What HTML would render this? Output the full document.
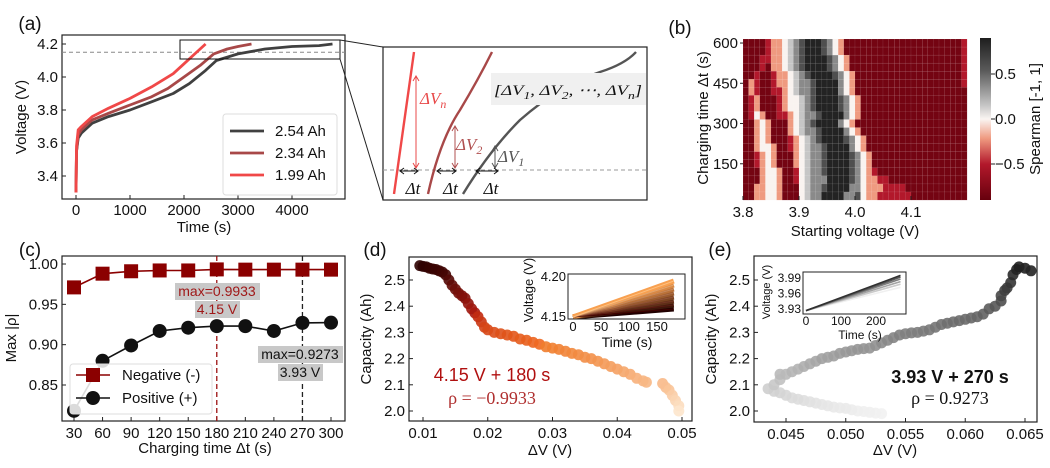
<!DOCTYPE html>
<html><head><meta charset="utf-8"><style>
html,body{margin:0;padding:0;background:#fff;}
svg{display:block;font-family:"Liberation Sans",sans-serif;}
</style></head><body>
<svg id="fig" width="1050" height="468" viewBox="0 0 1050 468" xmlns="http://www.w3.org/2000/svg">
</svg>
<script>
// ---------- Panel (a) data ----------
const aT1=[0,10,40,100,300,600,1000,1400,1800,2100,2400,2600,3000,3500,4000,4500,4750];
const aV1=[3.3,3.55,3.63,3.66,3.72,3.76,3.80,3.85,3.90,3.96,4.04,4.10,4.14,4.17,4.185,4.19,4.20];
const aT2=[0,10,40,100,300,600,1000,1400,1700,2000,2300,2550,2800,3000,3250];
const aV2=[3.3,3.55,3.65,3.68,3.74,3.78,3.83,3.88,3.93,4.00,4.07,4.14,4.17,4.185,4.20];
const aT3=[0,10,40,100,300,600,1000,1400,1800,2000,2200,2400];
const aV3=[3.3,3.58,3.68,3.70,3.76,3.81,3.87,3.94,4.02,4.08,4.14,4.20];
const aLegend=["2.54 Ah","2.34 Ah","1.99 Ah"];
const aXTicks=[0,1000,2000,3000,4000];
const aYTicks=[3.4,3.6,3.8,4.0,4.2];
// ---------- Panel (b) data ----------
const bXTicks=[3.8,3.9,4.0,4.1];
const bYTicks=[150,300,450,600];
const bCbTicks=[0.5,0.0,-0.5];
const bRows=[
"rrrrmppwlgdkkkdgwp","rrrrmppwlgdkkkdgwp","rrrmmppwlgdkkkkdgwp","rrrmrppwlgdkkkkdgwp",
"rrmrrmppwlgdkkkkdgwp","rpmrrmppwlggdkkkkgwp","rpmrrmmpwlggdkkkkgwp","rmprrrmpwwlgdkkkkdgwp",
"rmprrrmpwwlgdkkkkdgwp","rmwprrmmpwlggdkkkkgwp","rrpwprrrpwlgdkkkkgwpr","rrpwprrrpwlggdkkkkgwp",
"rrpwprrrmpwlgdkkkkdgwp","rrpwwprrmpwlggdkkkkgwp","rrmpwprrrpwlggdkkkkdgwp","rrmpwprrrpwlggdkkkkdgwp",
"rrrpwwprrmwlggdkkkkdgwpm","rrrpwwprrmwlgggkkkkdgwppmm","rrppwwprrrwlggdkkkkggwpppmmmm","rrppwwprrrwlggkkkkggdwppmmmmmm"];
const bLastCol="mmmmmmrrrrrrrrrrrrrr";
const bLevels={r:-0.85,m:-0.6,p:-0.3,w:0,l:0.25,g:0.5,d:0.72,k:0.88};
// ---------- Panel (c) data ----------
const cX=[30,60,90,120,150,180,210,240,270,300];
const cNeg=[0.971,0.988,0.991,0.992,0.992,0.9933,0.993,0.993,0.993,0.993];
const cPos=[0.818,0.880,0.899,0.917,0.921,0.923,0.923,0.917,0.927,0.9273];
const cYTicks=[0.85,0.90,0.95,1.00];
// ---------- Panel (d) data ----------
const dX=[0.0095,0.0100,0.0105,0.011,0.0115,0.012,0.0125,0.013,0.0135,0.014,0.0145,0.015,0.0155,0.016,0.0165,0.017,0.0175,0.018,0.0185,0.019,0.0195,0.020,0.021,0.022,0.023,0.024,0.025,0.026,0.027,0.028,0.029,0.030,0.031,0.032,0.033,0.034,0.035,0.036,0.037,0.038,0.039,0.040,0.041,0.042,0.043,0.044,0.0445,0.047,0.0475,0.048,0.0485,0.049,0.0495,0.0495];
const dY=[2.555,2.552,2.55,2.545,2.542,2.54,2.535,2.53,2.52,2.50,2.48,2.465,2.45,2.44,2.43,2.41,2.39,2.375,2.36,2.34,2.32,2.31,2.30,2.295,2.29,2.285,2.275,2.27,2.262,2.255,2.245,2.24,2.235,2.228,2.22,2.215,2.205,2.2,2.19,2.18,2.17,2.16,2.15,2.14,2.125,2.115,2.11,2.105,2.09,2.08,2.06,2.04,2.02,2.00];
const dXTicks=[0.01,0.02,0.03,0.04,0.05];
const dYTicks=[2.0,2.1,2.2,2.3,2.4,2.5];
const dInsetEnd=[4.160,4.165,4.170,4.175,4.180,4.185,4.190,4.195];
// ---------- Panel (e) data ----------
const eX=[0.053,0.0525,0.052,0.0515,0.051,0.0505,0.050,0.0495,0.049,0.0485,0.048,0.0475,0.047,0.0465,0.046,0.0455,0.045,0.0445,0.044,0.0435,0.044,0.0445,0.0445,0.045,0.0455,0.046,0.0465,0.047,0.0475,0.048,0.0485,0.049,0.0495,0.050,0.0505,0.051,0.0515,0.052,0.0525,0.053,0.0535,0.054,0.0545,0.055,0.0555,0.056,0.0565,0.057,0.0575,0.058,0.0585,0.059,0.0595,0.060,0.0605,0.061,0.0615,0.062,0.0625,0.063,0.063,0.0633,0.0635,0.0638,0.064,0.0643,0.0645,0.065,0.0655];
const eY=[1.99,1.992,1.995,1.998,2.0,2.005,2.01,2.012,2.015,2.02,2.025,2.03,2.035,2.04,2.045,2.05,2.06,2.07,2.075,2.085,2.10,2.12,2.14,2.14,2.15,2.16,2.17,2.18,2.19,2.2,2.205,2.21,2.22,2.225,2.23,2.235,2.238,2.24,2.25,2.26,2.27,2.28,2.29,2.295,2.298,2.30,2.305,2.31,2.32,2.33,2.335,2.34,2.345,2.35,2.355,2.36,2.37,2.39,2.40,2.42,2.44,2.46,2.47,2.49,2.52,2.54,2.55,2.545,2.535];
const eXTicks=[0.045,0.050,0.055,0.060,0.065];
const eYTicks=[2.0,2.1,2.2,2.3,2.4,2.5];
const eInsetEnd=[3.972,3.978,3.983,3.988,3.992,3.995];

const NS="http://www.w3.org/2000/svg";
const fig=document.getElementById('fig');
const TF=15;
function mk(tag,attrs,parent,txt){const e=document.createElementNS(NS,tag);for(const k in attrs)e.setAttribute(k,attrs[k]);if(txt!==undefined)e.textContent=txt;(parent||fig).appendChild(e);return e;}
function lin(d0,d1,p0,p1){return v=>p0+(v-d0)*(p1-p0)/(d1-d0);}
function grp(name){const g=mk('g',{});return g;}
function txt(g,x,y,s,size,anchor,extra){const t=mk('text',Object.assign({x:x,y:y,'font-size':size,'text-anchor':anchor||'middle',fill:'#111'},extra||{}),g,s);return t;}
function frame(g,x0,y0,x1,y1){mk('rect',{x:x0,y:y0,width:x1-x0,height:y1-y0,fill:'none',stroke:'#222','stroke-width':1.2},g);}
function xticks(g,ticks,sx,y0,y1,fmt,size,dy){ticks.forEach(v=>{const x=sx(v);mk('line',{x1:x,x2:x,y1:y1,y2:y1-4,stroke:'#222'},g);txt(g,x,y1+(dy||16),fmt(v),size||TF);});}
function yticks(g,ticks,sy,x0,fmt,size){ticks.forEach(v=>{const y=sy(v);mk('line',{x1:x0,x2:x0+4,y1:y,y2:y,stroke:'#222'},g);txt(g,x0-4,y+5,fmt(v),size||TF,'end');});}
function path(xs,ys,sx,sy){return xs.map((v,i)=>(i?'L':'M')+sx(v).toFixed(1)+','+sy(ys[i]).toFixed(1)).join('');}
function mixc(c1,c2,t){const a=c1.match(/\w\w/g).map(h=>parseInt(h,16)),b=c2.match(/\w\w/g).map(h=>parseInt(h,16));return 'rgb('+a.map((v,i)=>Math.round(v+(b[i]-v)*t)).join(',')+')';}
function subText(g,x,y,base,sub,size,anchor,color){const t=mk('text',{x:x,y:y,'font-size':size,'text-anchor':anchor||'start',fill:color||'#111','font-family':'Liberation Serif,serif','font-style':'italic'},g);
mk('tspan',{},t,base);mk('tspan',{dy:4,'font-size':size*0.7},t,sub);return t;}

// ======== Panel (a) ========
(function(){
const g=grp('panel-a');
txt(g,30,30,'(a)',19);
const sx=lin(0,4000,76,292), sy=lin(3.4,4.2,176,44);
frame(g,62,35,345,199);
const th=mk('line',{x1:62,x2:345,y1:sy(4.15),y2:sy(4.15),stroke:'#888','stroke-dasharray':'4,3'},g);

xticks(g,aXTicks,sx,35,199,v=>String(v));
yticks(g,aYTicks,sy,62,v=>v.toFixed(1));
txt(g,204,232,'Time (s)',15);
txt(g,0,0,'Voltage (V)',15,'middle',{transform:'translate(26,117) rotate(-90)'});
const cols=['#404040','#a84848','#f04848'];
[[aT1,aV1],[aT2,aV2],[aT3,aV3]].forEach((d,i)=>{const p=mk('path',{d:path(d[0],d[1],sx,sy),fill:'none',stroke:cols[i],'stroke-width':2.8,'stroke-linejoin':'round'},g);

});
mk('rect',{x:180,y:40,width:160,height:19,fill:'none',stroke:'#111','stroke-width':1},g);
const lg=mk('g',{},g);
mk('rect',{x:223,y:114,width:114,height:81,rx:3,fill:'#fff',stroke:'#ddd'},lg);
aLegend.forEach((s,i)=>{const y=131+i*22;mk('line',{x1:230,x2:264,y1:y,y2:y,stroke:cols[i],'stroke-width':2.8},lg);txt(lg,275,y+5,s,15,'start');});
mk('line',{x1:340,y1:40,x2:383,y2:47,stroke:'#222'},g);
mk('line',{x1:340,y1:59,x2:383,y2:200,stroke:'#222'},g);
})();

// ======== Zoom schematic ========
(function(){
const g=grp('zoom-schematic');
mk('rect',{x:383,y:47,width:264,height:153,fill:'#fff',stroke:'#222','stroke-width':1.2},g);
mk('line',{x1:383,x2:647,y1:170,y2:170,stroke:'#999','stroke-dasharray':'4,3'},g);
mk('path',{d:'M394,194 L414,52',fill:'none',stroke:'#f04848','stroke-width':2.4},g);
mk('path',{d:'M428,194 Q440,140 460,110 Q478,80 492,52',fill:'none',stroke:'#a84848','stroke-width':2.4},g);
mk('path',{d:'M463,194 Q490,150 520,120 Q560,85 600,72 Q625,64 636,52',fill:'none',stroke:'#555','stroke-width':2.4},g);
mk('rect',{x:491,y:73,width:155,height:32,fill:'#f0f0f0'},g);
const bt=mk('text',{x:494,y:95,'font-size':15,'font-family':'Liberation Serif,serif','font-style':'italic',fill:'#111',textLength:148,lengthAdjust:'spacingAndGlyphs'},g);
mk('tspan',{},bt,'[ΔV');mk('tspan',{dy:4,'font-size':11},bt,'1');
mk('tspan',{dy:-4},bt,', ΔV');mk('tspan',{dy:4,'font-size':11},bt,'2');
mk('tspan',{dy:-4},bt,', ⋯, ΔV');mk('tspan',{dy:4,'font-size':11},bt,'n');
mk('tspan',{dy:-4},bt,']');
const arr=(x1,y1,x2,y2,c)=>{mk('line',{x1:x1,y1:y1,x2:x2,y2:y2,stroke:c,'stroke-width':1},g);};
[[416,168,76,'#e84848','n',420,104],[455,168,126,'#b05050','2',456,150],[495,168,146,'#555','1',498,162]].forEach(a=>{
arr(a[0],a[1],a[0],a[2],a[3]);
mk('path',{d:`M${a[0]-3},${a[2]+5}L${a[0]},${a[2]}L${a[0]+3},${a[2]+5}M${a[0]-3},${a[1]-5}L${a[0]},${a[1]}L${a[0]+3},${a[1]-5}`,fill:'none',stroke:a[3]},g);
subText(g,a[5],a[6],'ΔV',a[4],17,'start',a[3]);});
[[400,418],[437,456],[476,498]].forEach(a=>{arr(a[0],171,a[1],171,'#111');
mk('path',{d:`M${a[0]+4},168L${a[0]},171L${a[0]+4},174M${a[1]-4},168L${a[1]},171L${a[1]-4},174`,fill:'none',stroke:'#111'},g);
txt(g,(a[0]+a[1])/2+4,194,'Δt',17,'middle',{'font-family':'Liberation Serif,serif','font-style':'italic'});});
})();

// ======== Panel (b) ========
(function(){
const g=grp('panel-b');
txt(g,680,34,'(b)',19);
const x0=743,x1=967,y0=39,y1=200;
const sx=lin(3.8,4.2,x0,x1), sy=lin(15,615,y1,y0);
const cw=(x1-x0)/40, ch=(y1-y0)/20;
function color(v){const stops=[[-0.9,'67000d'],[-0.6,'b2182b'],[-0.3,'ef9a80'],[0,'f9f3f0'],[0.25,'c6c6c6'],[0.5,'8a8a8a'],[0.75,'474747'],[0.9,'1e1e1e']];
for(let i=1;i<stops.length;i++){if(v<=stops[i][0]){const t=(v-stops[i-1][0])/(stops[i][0]-stops[i-1][0]);return mixc(stops[i-1][1],stops[i][1],Math.max(0,t));}}return '#1e1e1e';}
bRows.forEach((row,ri)=>{const s=row.padEnd(39,'r')+bLastCol[ri];
for(let ci=0;ci<40;ci++){const v=bLevels[s[ci]];const r=mk('rect',{x:(x0+ci*cw).toFixed(2),y:(y0+ri*ch).toFixed(2),width:(cw+0.1).toFixed(2),height:(ch+0.1).toFixed(2),fill:color(v),stroke:'rgba(255,255,255,0.18)','stroke-width':0.4},g);

}});
xticks(g,bXTicks,sx,y0,y1,v=>v.toFixed(1),TF,17);
bYTicks.forEach(v=>{const y=sy(v);mk('line',{x1:x0-3,x2:x0,y1:y,y2:y,stroke:'#222'},g);txt(g,x0-5,y+5,String(v),TF,'end');});
txt(g,855,236,'Starting voltage (V)',15);
txt(g,0,0,'Charging time Δt (s)',15,'middle',{transform:'translate(708,118) rotate(-90)'});
const defs=mk('defs',{},g);const lgd=mk('linearGradient',{id:'cbg',x1:0,y1:0,x2:0,y2:1},defs);
[[0,'1e1e1e'],[0.2,'5a5a5a'],[0.42,'c8c8c8'],[0.5,'faf5f2'],[0.62,'ef9a80'],[0.78,'b2182b'],[1,'67000d']].forEach(s=>mk('stop',{offset:s[0],'stop-color':'#'+s[1]},lgd));
const cb=mk('rect',{x:980,y:38,width:11,height:162,fill:'url(#cbg)'},g);
const scb=lin(0.9,-0.9,38,200);
bCbTicks.forEach(v=>{const y=scb(v);mk('line',{x1:991,x2:995,y1:y,y2:y,stroke:'#222'},g);txt(g,995,y+5,v===0?'0.0':(v<0?'−0.5':'0.5'),TF,'start');});
txt(g,0,0,'Spearman [-1, 1]',15,'middle',{transform:'translate(1040,119) rotate(-90)'});
})();

// ======== Panel (c) ========
(function(){
const g=grp('panel-c');
txt(g,30,256,'(c)',19);
const sx=lin(30,300,74,331), sy=lin(0.85,1.00,385,264);
frame(g,62,256,345,421);
xticks(g,cX,sx,256,421,v=>String(v),TF,17);
yticks(g,cYTicks,sy,62,v=>v.toFixed(2));
txt(g,205,453,'Charging time Δt (s)',15);
txt(g,0,0,'Max |ρ|',15,'middle',{transform:'translate(16,338) rotate(-90)'});
mk('line',{x1:sx(180),x2:sx(180),y1:256,y2:421,stroke:'#9b1010','stroke-dasharray':'5,3','stroke-width':1.3},g);
mk('line',{x1:sx(270),x2:sx(270),y1:256,y2:421,stroke:'#222','stroke-dasharray':'5,3','stroke-width':1.3},g);
mk('path',{d:path(cX,cNeg,sx,sy),fill:'none',stroke:'#8b0000','stroke-width':1.6},g);
mk('path',{d:path(cX,cPos,sx,sy),fill:'none',stroke:'#111','stroke-width':1.6},g);
cX.forEach((x,i)=>{const r=mk('rect',{x:sx(x)-7,y:sy(cNeg[i])-7,width:14,height:14,fill:'#8b0000'},g);


const c=mk('circle',{cx:sx(x),cy:sy(cPos[i]),r:7,fill:'#111'},g);

});
mk('rect',{x:175,y:283,width:85,height:17,fill:'#c8c8c8'},g);txt(g,217,296,'max=0.9933',14,'middle',{fill:'#a01818'});
mk('rect',{x:195,y:301,width:45,height:17,fill:'#c8c8c8'},g);txt(g,217,314,'4.15 V',14,'middle',{fill:'#a01818'});
mk('rect',{x:258,y:346,width:85,height:17,fill:'#c8c8c8'},g);txt(g,300,359,'max=0.9273',14);
mk('rect',{x:278,y:364,width:45,height:17,fill:'#c8c8c8'},g);txt(g,300,377,'3.93 V',14);
const lg=mk('g',{},g);
mk('rect',{x:70,y:364,width:142,height:50,rx:3,fill:'rgba(255,255,255,0.85)',stroke:'#ddd'},lg);
mk('line',{x1:76,x2:110,y1:375,y2:375,stroke:'#8b0000','stroke-width':1.6},lg);mk('rect',{x:86,y:368,width:14,height:14,fill:'#8b0000'},lg);
txt(lg,122,380,'Negative (-)',15,'start');
mk('line',{x1:76,x2:110,y1:398,y2:398,stroke:'#111','stroke-width':1.6},lg);mk('circle',{cx:93,cy:398,r:7,fill:'#111'},lg);
txt(lg,122,403,'Positive (+)',15,'start');
})();

// ======== Panel (d) ========
(function(){
const g=grp('panel-d');
txt(g,375,256,'(d)',19);
const sx=lin(0.01,0.05,423,682), sy=lin(2.0,2.5,411,280);
frame(g,409,257,692,421);
xticks(g,dXTicks,sx,257,421,v=>v.toFixed(2),TF,17);
yticks(g,dYTicks,sy,409,v=>v.toFixed(1));
txt(g,550,455,'ΔV (V)',15);
txt(g,0,0,'Capacity (Ah)',15,'middle',{transform:'translate(371,339) rotate(-90)'});
function col(c){const t=(2.56-c)/0.56;if(t<0.35)return mixc('2a0000','b01a10',t/0.35);if(t<0.55)return mixc('c02810','f06a20',(t-0.35)/0.2);return mixc('f07a28','fde6cc',(t-0.55)/0.45);}
dX.forEach((x,i)=>{const c=mk('circle',{cx:sx(x).toFixed(1),cy:sy(dY[i]).toFixed(1),r:5.5,fill:col(dY[i]),'fill-opacity':0.9},g);

});
txt(g,492,381,'4.15 V + 180 s',18,'middle',{fill:'#b01010'});
txt(g,492,404,'ρ = −0.9933',18,'middle',{fill:'#b03030','font-family':'Liberation Serif,serif'});
const ig=mk('g',{},g);
mk('rect',{x:568,y:274,width:117,height:45,fill:'#fff',stroke:'#222'},ig);
const ix=lin(0,150,573,657), iy=lin(4.15,4.20,317,277);
dInsetEnd.forEach((v,i)=>{mk('path',{d:path([0,180],[4.15,v],ix,iy),stroke:mixc('200000','f8a050',i/(dInsetEnd.length-1)),'stroke-width':5,fill:'none'},ig);});
dInsetEnd.forEach((v,i)=>{mk('path',{d:path([0,180],[4.15,v],ix,iy),stroke:mixc('400000','fdc080',i/(dInsetEnd.length-1)),'stroke-width':1,fill:'none'},ig);});
mk('rect',{x:568,y:274,width:117,height:45,fill:'none',stroke:'#222'},ig);
[0,50,100,150].forEach(v=>txt(ig,ix(v),331,String(v),13));
[[4.20,'4.20'],[4.15,'4.15']].forEach(a=>txt(ig,566,iy(a[0])+4,a[1],13,'end'));
txt(ig,627,347,'Time (s)',14);
txt(ig,0,0,'Voltage (V)',13,'middle',{transform:'translate(533,290) rotate(-90)'});
})();

// ======== Panel (e) ========
(function(){
const g=grp('panel-e');
txt(g,720,256,'(e)',19);
const sx=lin(0.045,0.065,786,1025), sy=lin(2.0,2.5,411,280);
frame(g,754,256,1037,422);
xticks(g,eXTicks,sx,256,422,v=>v.toFixed(3),TF,17);
yticks(g,eYTicks,sy,754,v=>v.toFixed(1));
txt(g,895,455,'ΔV (V)',15);
txt(g,0,0,'Capacity (Ah)',15,'middle',{transform:'translate(716,339) rotate(-90)'});
function col(c){const t=(c-1.99)/0.56;return mixc('f2f2f2','1e1e1e',Math.max(0,Math.min(1,t)));}
eX.forEach((x,i)=>{const c=mk('circle',{cx:sx(x).toFixed(1),cy:sy(eY[i]).toFixed(1),r:5.5,fill:col(eY[i]),'fill-opacity':0.9},g);

});
txt(g,950,383,'3.93 V + 270 s',18,'middle',{'font-weight':'bold'});
txt(g,950,404,'ρ = 0.9273',18,'middle',{'font-family':'Liberation Serif,serif'});
const ig=mk('g',{},g);
mk('rect',{x:803,y:272,width:103,height:42,fill:'#fff',stroke:'#222'},ig);
const ix=lin(0,200,806,876), iy=lin(3.93,3.99,309,278);
eInsetEnd.forEach((v,i)=>{mk('path',{d:path([0,270],[3.927,v],ix,iy),stroke:mixc('f0f0f0','303030',i/(eInsetEnd.length-1)),'stroke-width':1.6,fill:'none'},ig);});
mk('rect',{x:803,y:272,width:103,height:42,fill:'none',stroke:'#222'},ig);
[0,100,200].forEach(v=>txt(ig,ix(v),325,String(v),12));
[[3.99,'3.99'],[3.96,'3.96'],[3.93,'3.93']].forEach(a=>txt(ig,801,iy(a[0])+4,a[1],12,'end'));
txt(ig,860,339,'Time (s)',12);
txt(ig,0,0,'Voltage (V)',11,'middle',{transform:'translate(770,292) rotate(-90)'});
})();
</script>
</body></html>
